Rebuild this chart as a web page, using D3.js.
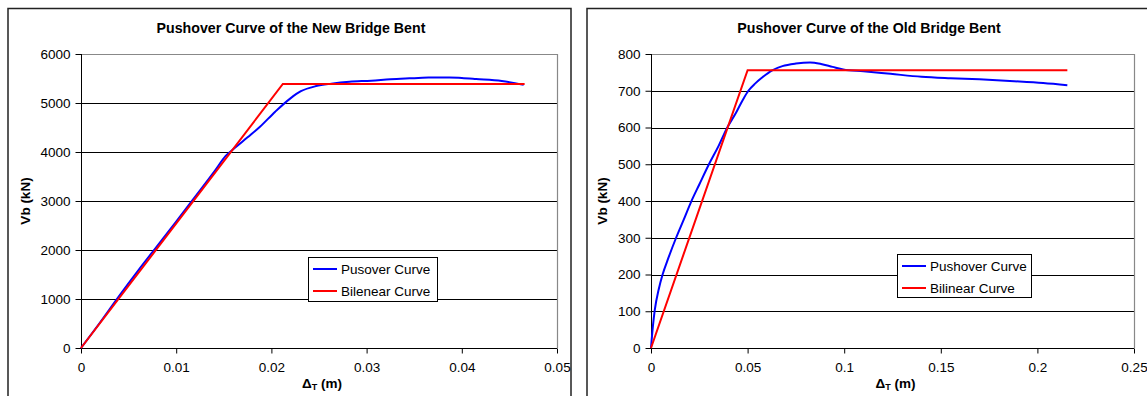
<!DOCTYPE html>
<html>
<head>
<meta charset="utf-8">
<script src="https://cdn.jsdelivr.net/npm/d3@7"></script>
<style>
  body { margin: 0; background: #fff; }
  svg { display: block; font-family: "Liberation Sans", Arial, sans-serif; }
</style>
</head>
<body>
<div id="chart"></div>
<script>
// values: [drift (m), base shear (kN)]
const newPushover = [[0,0],[0.002,520],[0.004,1060],[0.006,1580],[0.008,2080],[0.010,2580],
  [0.012,3090],[0.014,3600],[0.0152,3920],[0.0162,4090],[0.0175,4300],[0.0188,4515],
  [0.0204,4823],[0.0220,5095],[0.0231,5240],[0.0247,5345],[0.0263,5395],[0.0282,5435],
  [0.0305,5455],[0.0325,5485],[0.0345,5503],[0.0365,5518],[0.0387,5522],[0.0400,5510],
  [0.0415,5490],[0.0442,5450],[0.0465,5370]];
const newBilinear = [[0,0],[0.0212,5388],[0.0466,5388]];

const oldPushover = [[0,0],[0.001,60],[0.002,105],[0.004,160],[0.006,200],[0.009,245],
  [0.013,300],[0.017,350],[0.0207,397],[0.025,445],[0.030,500],[0.035,550],[0.0395,600],
  [0.044,640],[0.0475,675],[0.0504,700],[0.054,720],[0.058,738],[0.0625,755],[0.068,767],
  [0.075,774],[0.0823,777],[0.088,773],[0.094,765],[0.0995,758],[0.11,753],[0.124,746],
  [0.14,738],[0.155,734],[0.17,731],[0.188,726],[0.203,721],[0.2155,715]];
const oldBilinear = [[0,0],[0.05,756],[0.2155,756]];

const newXTicks = [0, 0.01, 0.02, 0.03, 0.04, 0.05];
const newYTicks = [0, 1000, 2000, 3000, 4000, 5000, 6000];
const oldXTicks = [0, 0.05, 0.1, 0.15, 0.2, 0.25];
const oldYTicks = [0, 100, 200, 300, 400, 500, 600, 700, 800];

const newTitle = "Pushover Curve of the New Bridge Bent";
const oldTitle = "Pushover Curve of the Old Bridge Bent";
const newLegend = ["Pusover Curve", "Bilenear Curve"];
const oldLegend = ["Pushover Curve", "Bilinear Curve"];

const svg = d3.select("#chart").append("svg")
  .attr("width", 1147)
  .attr("height", 396);

function drawChart(c) {
  const g = svg.append("g");

  // chart frame (bottom edge falls outside the picture)
  g.append("rect")
    .attr("x", c.frame[0]).attr("y", 8.5)
    .attr("width", c.frame[1] - c.frame[0]).attr("height", 420)
    .attr("fill", "none").attr("stroke", "#222").attr("stroke-width", 1.5);

  const x = d3.scaleLinear().domain(c.xDomain).range([c.left, c.right]);
  const y = d3.scaleLinear().domain(c.yDomain).range([348, 54]);

  g.append("text")
    .attr("x", c.titleX).attr("y", 33)
    .attr("text-anchor", "middle")
    .attr("font-size", "14.2px").attr("font-weight", "bold")
    .text(c.title);

  // gridlines
  g.append("g").selectAll("line")
    .data(c.yTicks.slice(1, -1))
    .join("line")
      .attr("x1", c.left).attr("x2", c.right)
      .attr("y1", d => Math.round(y(d)) + 0.5).attr("y2", d => Math.round(y(d)) + 0.5)
      .attr("stroke", "#000").attr("stroke-width", 1);

  // plot area border (top / right in gray)
  g.append("path")
    .attr("d", `M${c.left},${y(c.yDomain[1]) + 0.5}H${c.right + 0.5}V348`)
    .attr("fill", "none").attr("stroke", "#888").attr("stroke-width", 1.2);

  const yAxis = d3.axisLeft(y).tickValues(c.yTicks).tickSize(6).tickPadding(5)
    .tickFormat(d => String(d));
  const xAxis = d3.axisBottom(x).tickValues(c.xTicks).tickSize(5).tickPadding(9)
    .tickFormat(d => String(d));

  const ya = g.append("g").attr("transform", `translate(${c.left + 0.5},0)`).call(yAxis);
  const xa = g.append("g").attr("transform", "translate(0,348.5)").call(xAxis);
  [ya, xa].forEach(a => {
    a.select(".domain").attr("stroke", "#000");
    a.selectAll(".tick line").attr("stroke", "#000");
    a.selectAll(".tick text")
      .attr("fill", "#000")
      .attr("font-size", "13.5px")
      .attr("font-family", "'Liberation Sans', Arial, sans-serif");
  });
  ya.select(".domain").attr("d", `M0,54V348`);
  xa.select(".domain").attr("d", `M${c.left},0H${c.right}`);

  const line = d3.line().x(d => x(d[0])).y(d => y(d[1]));
  const smooth = d3.line().x(d => x(d[0])).y(d => y(d[1])).curve(d3.curveMonotoneX);

  g.append("path").datum(c.pushover)
    .attr("d", smooth)
    .attr("fill", "none").attr("stroke", "#0000ff").attr("stroke-width", 2);
  g.append("path").datum(c.bilinear)
    .attr("d", line)
    .attr("fill", "none").attr("stroke", "#ff0000").attr("stroke-width", 2);

  // axis titles
  g.append("text")
    .attr("transform", `translate(${c.yLabelX},201) rotate(-90)`)
    .attr("text-anchor", "middle")
    .attr("font-size", "13.5px").attr("font-weight", "bold")
    .text("Vb (kN)");

  const xl = g.append("text")
    .attr("x", (c.left + c.right) / 2 + 3).attr("y", 388)
    .attr("text-anchor", "middle")
    .attr("font-size", "13.5px").attr("font-weight", "bold");
  xl.append("tspan").text("Δ");
  xl.append("tspan").attr("font-size", "9px").attr("dy", 2).text("T");
  xl.append("tspan").attr("dy", -2).text(" (m)");

  // legend
  const L = c.legend;
  g.append("rect")
    .attr("x", L.x + 0.5).attr("y", L.y + 0.5)
    .attr("width", L.w).attr("height", L.h)
    .attr("fill", "#fff").attr("stroke", "#000").attr("stroke-width", 1);
  const colors = ["#0000ff", "#ff0000"];
  c.legendLabels.forEach((t, i) => {
    const ly = L.y + 12 + i * 22;
    g.append("line")
      .attr("x1", L.x + 5).attr("x2", L.x + 29)
      .attr("y1", ly).attr("y2", ly)
      .attr("stroke", colors[i]).attr("stroke-width", 2);
    g.append("text")
      .attr("x", L.x + 33).attr("y", ly + 5)
      .attr("font-size", "13.5px")
      .text(t);
  });
}

drawChart({
  frame: [8, 571], left: 81, right: 557,
  xDomain: [0, 0.05], yDomain: [0, 6000],
  xTicks: newXTicks, yTicks: newYTicks,
  pushover: newPushover, bilinear: newBilinear,
  title: newTitle, titleX: 291, yLabelX: 30,
  legend: { x: 308, y: 257, w: 129, h: 44 },
  legendLabels: newLegend
});

drawChart({
  frame: [587, 1160], left: 651, right: 1134,
  xDomain: [0, 0.25], yDomain: [0, 800],
  xTicks: oldXTicks, yTicks: oldYTicks,
  pushover: oldPushover, bilinear: oldBilinear,
  title: oldTitle, titleX: 869, yLabelX: 607,
  legend: { x: 897, y: 254, w: 134, h: 43 },
  legendLabels: oldLegend
});
</script>
</body>
</html>
